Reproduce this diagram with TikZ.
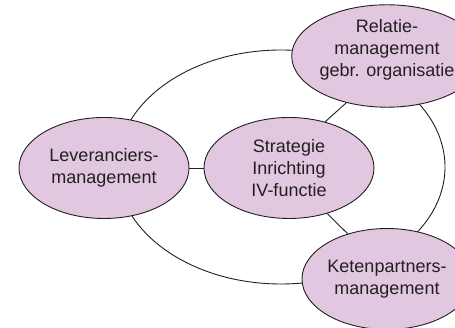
\documentclass[tikz,border=0pt]{standalone}
\usepackage{fontspec}
\setmainfont{Liberation Sans}
\usetikzlibrary{shapes.geometric}
\definecolor{blobfill}{RGB}{226,199,224}
\definecolor{inkline}{RGB}{35,31,32}
\begin{document}
\begin{tikzpicture}[x=1pt,y=1pt,
  blob/.style={ellipse, draw=inkline, line width=0.9pt, fill=blobfill,
    minimum width=170, minimum height=101, inner sep=0pt,
    align=center, text=inkline, font=\fontsize{18}{21.7}\selectfont},
  link/.style={draw=inkline, line width=0.9pt}]
  \useasboundingbox (0,0) rectangle (455,328);
  \clip (0,0) rectangle (455,328);
  % outer ring joining the three outer topics
  \node[ellipse, draw=inkline, line width=0.9pt, minimum width=328, minimum height=234, inner sep=0pt] (ring) at (281,161) {};
  % topics
  \node[blob] (lev) at (104,160) {Leveranciers-\\management};
  \node[blob] (mid) at (289,160) {Strategie\\Inrichting\\IV-functie};
  \node[blob, text depth=16pt] (rel) at (387,272) {Relatie-\\management\\gebr. organisatie};
  \node[blob] (ket) at (387,49) {Ketenpartners-\\management};
  % spokes from the centre
  \path[link] (lev.east) -- (mid.west);
  \path[link] (mid.52) -- (rel.229);
  \path[link] (mid.-50) -- (ket.131);
\end{tikzpicture}
\end{document}
